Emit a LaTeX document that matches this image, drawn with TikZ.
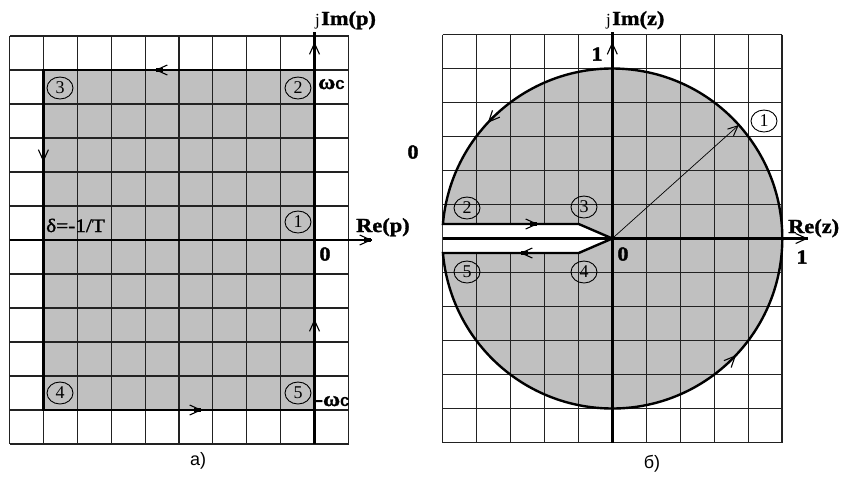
\documentclass[tikz,border=0pt]{standalone}
\usepackage{fontspec}
\setmainfont{Liberation Serif}
\newfontfamily\lblfont[FakeStretch=1.12,FakeBold=1.5]{Liberation Serif}
\newfontfamily\capfont{Liberation Sans}
\usetikzlibrary{arrows.meta,shapes.geometric}
\definecolor{fillgray}{HTML}{C0C0C0}
\definecolor{gridc}{HTML}{222222}
\tikzset{
  gridline/.style={draw=gridc,line width=1.1pt},
  contour/.style={draw=black,line width=2.4pt},
  axisline/.style={draw=black,line width=2.4pt},
  tipline/.style={draw=black,line width=1.4pt,-{Straight Barb[length=11pt,width=10pt,line width=1.1pt]}},
  blockline/.style={draw=black,line width=3.6pt},
  thinarrow/.style={draw=black,line width=0.7pt,-{Straight Barb[length=10pt,width=9pt,line width=1pt]}},
  circnum/.style={ellipse,draw=black,line width=0.9pt,minimum width=26pt,minimum height=22pt,inner sep=0pt,font=\fontsize{18}{18}\selectfont},
  bigl/.style={font=\fontsize{20}{20}\selectfont\lblfont\bfseries,inner sep=0pt},
  numl/.style={font=\fontsize{20}{20}\selectfont\lblfont\bfseries,inner sep=0pt},
  capl/.style={font=\fontsize{18}{18}\selectfont\capfont,inner sep=0pt},
}
\begin{document}
\begin{tikzpicture}[x=1pt,y=-1pt]
\useasboundingbox (0,0) rectangle (848,477);
\fill[white] (0,0) rectangle (848,477);
% ---------------- left diagram ----------------
\fill[fillgray] (43.4,70) rectangle (314.5,410);
\foreach \i in {0,...,10} \draw[gridline] (9.5+\i*33.9,36) -- (9.5+\i*33.9,444);
\foreach \j in {0,...,12} \draw[gridline] (9.5,36+\j*34) -- (348.5,36+\j*34);
\coordinate (LA) at (314.5,70);
\coordinate (LB) at (43.4,70);
\coordinate (LC) at (43.4,410);
\coordinate (LD) at (314.5,410);
\draw[contour] (LA) -- (LB) -- (LC) -- (LD);
\coordinate (Lyb) at (314.5,444);
\coordinate (Lyt) at (314.5,32);
\coordinate (Lxl) at (9.5,240);
\coordinate (Lxr) at (372,240);
\draw[axisline] (Lyb) -- (Lyt);
\draw[axisline] (Lxl) -- (Lxr);
% contour arrows
\draw[tipline] (356,240) -- (372,240);   \draw[blockline] (364,240) -- (371,240);
\draw[tipline] (314.5,58) -- (314.5,42); \draw[blockline] (314.5,50) -- (314.5,43);
\draw[tipline] (171,70) -- (155,70);     \draw[blockline] (163,70) -- (156,70);
\draw[tipline] (43.4,146) -- (43.4,162); \draw[blockline] (43.4,154) -- (43.4,161);
\draw[tipline] (186,410) -- (202,410);   \draw[blockline] (194,410) -- (201,410);
\draw[tipline] (314.5,335) -- (314.5,319); \draw[blockline] (314.5,327) -- (314.5,320);
\node[circnum] (l1) at (298,222) {1};
\node[circnum] (l2) at (298,88) {2};
\node[circnum] (l3) at (60,88) {3};
\node[circnum] (l4) at (60,393) {4};
\node[circnum] (l5) at (298,393) {5};
\node[inner sep=0pt,anchor=base east] (jp) at (320,25) {\fontsize{17}{17}\selectfont j};
\node[bigl,anchor=base west] (imp) at (321,25) {Im(p)};
\node[bigl,anchor=base west] (rep) at (356,232) {Re(p)};
\node[numl] (l0) at (325,254) {0};
\node[numl] (mid0) at (413,152) {0};
\node[inner sep=0pt,anchor=base west] (wc) at (318,89) {\fontsize{21}{21}\selectfont\lblfont\bfseries ω\fontsize{17}{17}\selectfont\capfont c};
\node[inner sep=0pt,anchor=base west] (mwc) at (315,406) {\fontsize{21}{21}\selectfont\lblfont\bfseries -ω\fontsize{17}{17}\selectfont\capfont c};
\node[inner sep=0pt,anchor=base west] (delta) at (46,232) {\fontsize{19}{19}\selectfont\lblfont δ=-1/T};
\node[capl] (capa) at (198,461) {а)};
% ---------------- right diagram ----------------
\coordinate (O) at (612.3,238.5);
\coordinate (S1) at (578.7,224);
\coordinate (S2) at (578.7,253);
\coordinate (S0) at (442.9,224);
\coordinate (S3) at (442.9,253);
\fill[fillgray] (O) ++(-175.11:170) arc[start angle=-175.11,end angle=175.11,radius=170] -- (S2) -- (O) -- (S1) -- cycle;
\foreach \i in {0,...,10} \draw[gridline] (442.7+\i*33.93,34.5) -- (442.7+\i*33.93,442.5);
\foreach \j in {0,...,12} \draw[gridline] (442.7,34.5+\j*34) -- (782,34.5+\j*34);
\fill[white] (S0) -- (S1) -- (O) -- (S2) -- (S3) -- cycle;
\draw[contour,line join=miter] (O) ++(-175.11:170) arc[start angle=-175.11,end angle=175.11,radius=170] -- (S2) -- (O) -- (S1) -- cycle;
\coordinate (Ryb) at (612.3,442.5);
\coordinate (Ryt) at (612.3,32);
\coordinate (Rxl) at (442.7,238.5);
\coordinate (Rxr) at (808,238.5);
\draw[axisline] (Ryb) -- (Ryt);
\draw[axisline] (Rxl) -- (Rxr);
\draw[tipline] (792,238.5) -- (808,238.5); \draw[blockline] (800,238.5) -- (807,238.5);
\draw[tipline] (612.3,58) -- (612.3,42);   \draw[blockline] (612.3,50) -- (612.3,43);
\draw[thinarrow] (O) -- ++(-41.9:170);
\draw[tipline] (O) ++(-131:170) arc[start angle=-131,end angle=-137.1,radius=170];
\draw[tipline] (O) ++(49:170) arc[start angle=49,end angle=43.3,radius=170];
\draw[tipline] (522,224) -- (538,224); \draw[blockline] (530,224) -- (537,224);
\draw[tipline] (536,253) -- (520,253); \draw[blockline] (528,253) -- (521,253);
\node[circnum] (r1) at (764,121) {1};
\node[circnum] (r2) at (467,208) {2};
\node[circnum] (r3) at (584,207) {3};
\node[circnum] (r4) at (584,272) {4};
\node[circnum] (r5) at (467,272) {5};
\node[inner sep=0pt,anchor=base east] (jz) at (611,25) {\fontsize{17}{17}\selectfont j};
\node[bigl,anchor=base west] (imz) at (612,25) {Im(z)};
\node[bigl,anchor=base west] (rez) at (788,233) {Re(z)};
\node[numl] (r0) at (623,254) {0};
\node[numl] (r1x) at (802,257) {1};
\node[numl] (r1y) at (597,54) {1};
\node[capl] (capb) at (652,464) {б)};
\end{tikzpicture}
\end{document}
